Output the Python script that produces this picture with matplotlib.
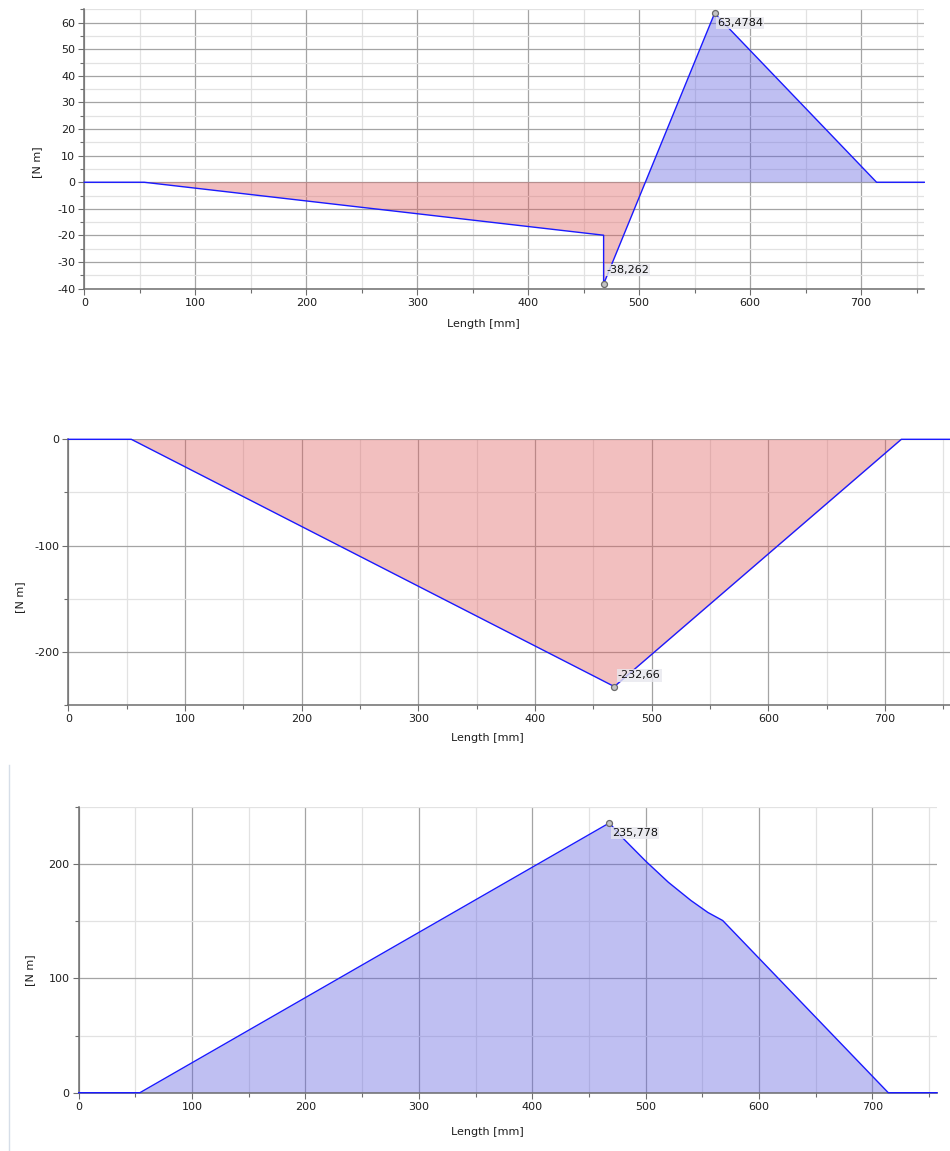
import matplotlib
matplotlib.use("Agg")
import matplotlib.pyplot as plt
from matplotlib.ticker import MultipleLocator
from matplotlib.lines import Line2D
import numpy as np

plt.rcParams["font.family"] = ["DejaVu Sans"]
plt.rcParams["axes.unicode_minus"] = False

# ---- data: moment diagrams along the shaft [mm] -> [N m] ----
x_top = [0, 54, 468, 468, 568, 714, 757]
m_top = [0, 0, -19.9, -38.262, 63.4784, 0, 0]
peak_top = [(568, 63.4784, "63,4784"), (468, -38.262, "-38,262")]

x_mid = [0, 54, 468, 714, 757]
m_mid = [0, 0, -232.66, 0, 0]
peak_mid = [(468, -232.66, "-232,66")]

x_bot = [0, 54, 468, 480, 500, 520, 540, 555, 568, 714, 757]
m_bot = [0, 0, 235.778, 222.5, 202.5, 184.0, 168.0, 157.5, 150.5, 0, 0]
peak_bot = [(468, 235.778, "235,778")]

W, H = 950, 1151
fig = plt.figure(figsize=(W / 100, H / 100), dpi=100)

POS_COLOR = "#6060e0"
NEG_COLOR = "#e06060"
LINE_COLOR = "#1a1aff"
MAJOR_GRID = "#a4a4a4"
MINOR_GRID = "#e2e2e2"
SPINE = "#6e6e6e"


def add_axes_px(l, t, r, b):
    return fig.add_axes([l / W, 1 - b / H, (r - l) / W, (b - t) / H])


def style(ax, ylim, ymaj, ymin, box):
    l, t, r, b = box
    ax.set_xlim(0, 757)
    ax.set_ylim(*ylim)
    ax.xaxis.set_major_locator(MultipleLocator(100))
    ax.xaxis.set_minor_locator(MultipleLocator(50))
    ax.yaxis.set_major_locator(MultipleLocator(ymaj))
    ax.yaxis.set_minor_locator(MultipleLocator(ymin))
    ax.grid(which="major", color=MAJOR_GRID, lw=0.9, zorder=0)
    ax.grid(which="minor", color=MINOR_GRID, lw=0.9, zorder=0)
    ax.set_axisbelow(True)
    for s in ("top", "right"):
        ax.spines[s].set_visible(False)
    for s in ("left", "bottom"):
        ax.spines[s].set_color(SPINE)
        ax.spines[s].set_linewidth(1.1)
    ax.tick_params(which="major", direction="out", length=4.5, width=0.8,
                   color=SPINE, labelsize=8, labelcolor="#1e1e1e", pad=2)
    ax.tick_params(which="minor", direction="out", length=3, width=0.8,
                   color=SPINE)


def diagram(ax, x, y, peaks, offsets):
    x = np.asarray(x, float)
    y = np.asarray(y, float)
    ax.fill_between(x, y, 0, where=y >= 0, interpolate=True,
                    color=POS_COLOR, alpha=0.4, lw=0, zorder=2)
    ax.fill_between(x, y, 0, where=y <= 0, interpolate=True,
                    color=NEG_COLOR, alpha=0.4, lw=0, zorder=2)
    ax.plot(x, y, color=LINE_COLOR, lw=1.0, zorder=3, clip_on=False)
    for (px, py, txt), (dx, dy) in zip(peaks, offsets):
        ax.plot([px], [py], "o", ms=4.3, mfc="#c4c4c4", mec="#6a6a6a",
                mew=0.9, zorder=5, clip_on=False)
        ax.annotate(txt, xy=(px, py), xytext=(dx, dy),
                    textcoords="offset points", ha="left", va="center",
                    fontsize=8, color="#111111", zorder=6,
                    bbox=dict(boxstyle="square,pad=0.1", fc="#e8e8ee",
                              ec="none", alpha=0.8))


def labels(ax, box, xlab_px, ylab_px):
    l, t, r, b = box
    ax.set_xlabel("Length [mm]", fontsize=8, va="center", color="#1e1e1e")
    ax.xaxis.set_label_coords((xlab_px[0] - l) / (r - l),
                              (b - xlab_px[1]) / (b - t))
    ax.set_ylabel("[N m]", fontsize=8, va="center", color="#1e1e1e")
    ax.yaxis.set_label_coords((ylab_px[0] - l) / (r - l),
                              (b - ylab_px[1]) / (b - t))


# top diagram
box1 = (84.3, 9.3, 924.3, 288.7)
ax1 = add_axes_px(*box1)
style(ax1, (-40, 65), 10, 5, box1)
diagram(ax1, x_top, m_top, peak_top, [(2, -7), (2, 10)])
labels(ax1, box1, (483, 324), (37, 162))

# middle diagram
box2 = (68.3, 439.3, 951.5, 705)
ax2 = add_axes_px(*box2)
style(ax2, (-250, 0), 100, 50, box2)
diagram(ax2, x_mid, m_mid, peak_mid, [(2.5, 8)])
labels(ax2, box2, (487, 738), (20, 597))

# bottom diagram
box3 = (78.7, 806.7, 937, 1092.7)
ax3 = add_axes_px(*box3)
style(ax3, (0, 250), 100, 50, box3)
diagram(ax3, x_bot, m_bot, peak_bot, [(2, -7)])
labels(ax3, box3, (487, 1132), (30, 970))

# thin panel border on the left of the lower panel
fig.add_artist(Line2D([8.5 / W, 8.5 / W], [0, 1 - 765 / H],
                      transform=fig.transFigure, color="#d6dee8", lw=1.0))

fig.savefig("out.png", dpi=100)
